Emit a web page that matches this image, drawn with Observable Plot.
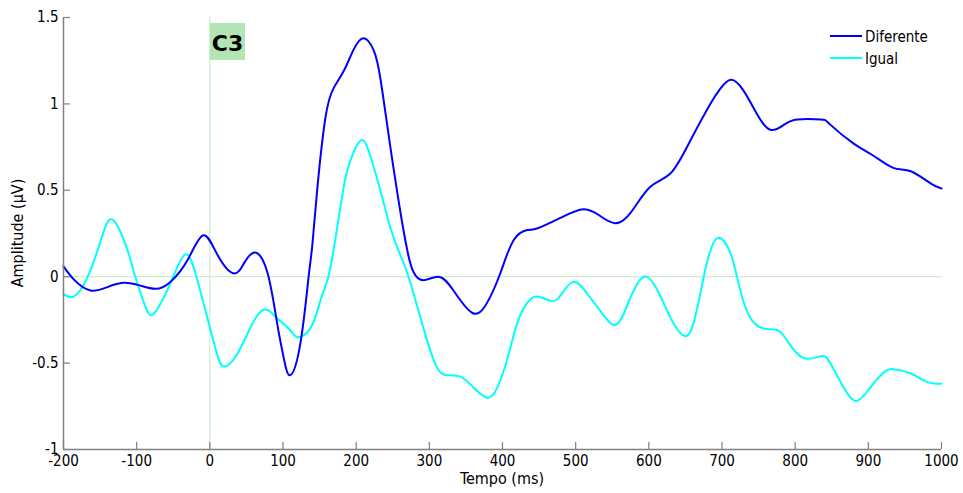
<!DOCTYPE html>
<html>
<head>
<meta charset="utf-8">
<script src="https://cdn.jsdelivr.net/npm/d3@7"></script>
<script src="https://cdn.jsdelivr.net/npm/@observablehq/plot@0.6"></script>
<style>
  body { margin: 0; background: #fff; }
  #wrap { position: relative; width: 963px; height: 493px; font-family: "DejaVu Sans Condensed", "DejaVu Sans", sans-serif; }
  #wrap svg { position: absolute; left: 0; top: 0; }
  .ov { position: absolute; color: #000; white-space: nowrap; }
</style>
</head>
<body>
<div id="wrap"></div>
<script>
// ---- data ----
const seriesNames = ["Diferente", "Igual"];
const seriesColors = ["#0000ff", "#00ffff"];
const xTicks = [-200, -100, 0, 100, 200, 300, 400, 500, 600, 700, 800, 900, 1000];
const yTicks = [-1, -0.5, 0, 0.5, 1, 1.5];
const channelLabel = "C3";

const tDiferente = [-200,-185,-163,-140,-118,-96,-74,-54,-30,-9,10,32,47,62,79,92,101,110,124,135,140,147,158,169,183,196,210,224,233,243,251,261,270,278,292,313,333,359,379,397,415,434,448,479,511,534,554,575,602,630,657,684,698,712,729,748,766,785,803,835,848,880,907,934,958,985,1000];
const vDiferente = [0.06,-0.02,-0.08,-0.06,-0.035,-0.05,-0.07,-0.03,0.1,0.24,0.13,0.02,0.08,0.14,0.02,-0.27,-0.47,-0.57,-0.38,0.0,0.18,0.515,0.92,1.09,1.19,1.31,1.38,1.31,1.15,0.86,0.63,0.36,0.15,0.03,-0.02,0.0,-0.08,-0.21,-0.15,0.02,0.21,0.27,0.28,0.34,0.39,0.35,0.31,0.37,0.52,0.60,0.79,1.0,1.09,1.14,1.08,0.94,0.85,0.88,0.91,0.91,0.88,0.77,0.70,0.63,0.61,0.54,0.51];

const tIgual = [-200,-186,-168,-149,-133,-113,-104,-91,-79,-63,-50,-33,-17,1,10,19,37,56,74,92,110,120,138,151,162,172,183,192,207,220,233,247,258,270,284,297,311,325,343,360,379,393,407,420,434,448,466,479,497,516,534,552,565,575,593,612,630,647,661,675,684,695,712,725,739,757,776,789,811,835,848,866,884,903,921,934,958,981,1000];
const vIgual = [-0.10,-0.115,-0.01,0.21,0.33,0.16,0.03,-0.14,-0.22,-0.12,0.0,0.13,-0.02,-0.31,-0.45,-0.52,-0.45,-0.29,-0.19,-0.24,-0.31,-0.35,-0.295,-0.14,0.0,0.23,0.52,0.67,0.79,0.69,0.50,0.28,0.15,0.02,-0.18,-0.37,-0.53,-0.57,-0.58,-0.64,-0.70,-0.64,-0.47,-0.27,-0.15,-0.115,-0.14,-0.11,-0.03,-0.10,-0.20,-0.28,-0.22,-0.12,0.0,-0.08,-0.24,-0.34,-0.27,0.0,0.15,0.225,0.13,-0.08,-0.24,-0.30,-0.31,-0.37,-0.47,-0.46,-0.50,-0.64,-0.72,-0.64,-0.555,-0.535,-0.56,-0.61,-0.62];

// ---- build table ----
const rows = [];
tIgual.forEach((t, i) => rows.push({series: "Igual", t, v: vIgual[i]}));
tDiferente.forEach((t, i) => rows.push({series: "Diferente", t, v: vDiferente[i]}));

const W = 963, H = 493, mL = 63, mR = 22, mT = 17, mB = 44;
const frameW = W - mL - mR, frameH = H - mT - mB;
const tickLen = 7;
const axisGrey = "#808080";
const zeroGreen = "#c4e6c4";
const fmt = d => String(d);
const fontFam = "DejaVu Sans Condensed, DejaVu Sans, sans-serif";

const chart = Plot.plot({
  width: W, height: H,
  marginLeft: mL, marginRight: mR, marginTop: mT, marginBottom: mB,
  style: {fontFamily: fontFam, fontSize: "15px", color: "#000", background: "#fff"},
  x: {domain: [-200, 1000]},
  y: {domain: [-1, 1.5]},
  color: {domain: seriesNames, range: seriesColors},
  marks: [
    Plot.ruleY([0], {stroke: zeroGreen, strokeWidth: 1}),
    Plot.ruleX([0], {stroke: zeroGreen, strokeWidth: 1}),
    Plot.line(rows, {x: "t", y: "v", z: "series", stroke: "series", strokeWidth: 2, curve: "natural"}),
    Plot.ruleX([-200], {stroke: axisGrey, strokeWidth: 1.5}),
    Plot.ruleY([-1], {stroke: axisGrey, strokeWidth: 1.5}),
    Plot.tickX(xTicks, {x: d => d, stroke: axisGrey, strokeWidth: 1.2, insetTop: frameH - tickLen}),
    Plot.tickY(yTicks, {y: d => d, stroke: axisGrey, strokeWidth: 1.2, insetRight: frameW - tickLen}),
    Plot.axisX({ticks: xTicks, tickFormat: fmt, tickSize: 0, tickPadding: 6, label: null, fontSize: 15}),
    Plot.axisY({ticks: yTicks, tickFormat: fmt, tickSize: 0, tickPadding: 5, label: null, fontSize: 15})
  ]
});

const wrap = document.getElementById("wrap");
wrap.appendChild(chart);

function ov(html, css) {
  const d = document.createElement("div");
  d.className = "ov";
  d.innerHTML = html;
  Object.assign(d.style, css);
  wrap.appendChild(d);
  return d;
}
// axis titles
ov("Tempo (ms)", {left: "0px", width: (2 * mL + frameW) + "px", textAlign: "center", top: "472px", fontSize: "16px", lineHeight: "14px"});
ov("Amplitude (µV)", {left: "17px", top: (mT + frameH / 2) + "px", fontSize: "16px", transform: "translate(-50%,-50%) rotate(-90deg)"});
// channel label
ov(channelLabel, {left: "210px", top: "23px", width: "35px", height: "37px", lineHeight: "41px", textAlign: "center", background: "#b3e4b3", fontWeight: "bold", fontSize: "22px", fontFamily: "DejaVu Sans, sans-serif"});
// legend
seriesNames.forEach((name, i) => {
  const y = 35.5 + i * 22;
  ov("", {left: "830px", top: (y - 1) + "px", width: "32px", height: "2px", background: seriesColors[i]});
  ov(name, {left: "865px", top: (y - 9) + "px", fontSize: "15px", lineHeight: "20px"});
});
</script>
</body>
</html>
